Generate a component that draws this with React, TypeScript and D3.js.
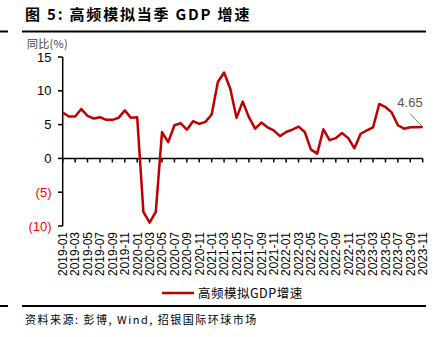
import React from "react";
import * as d3 from "d3";

const months: string[] = [];
for (let y = 2019; y <= 2023; y++) for (let m = 1; m <= 12; m++) {
  if (y === 2023 && m > 11) break;
  months.push(`${y}-${String(m).padStart(2, "0")}`);
}
const gdpValues = [
  6.8, 6.2, 6.2, 7.3, 6.3, 5.9, 6.1, 5.7, 5.7, 6.0, 7.1, 6.0,
  6.1, -7.9, -9.5, -7.9, 3.9, 2.4, 4.9, 5.2, 4.25, 5.5, 5.1, 5.4,
  6.5, 11.3, 12.7, 10.3, 6.0, 8.4, 6.1, 4.4, 5.3, 4.6, 4.15, 3.3,
  3.9, 4.25, 4.7, 3.9, 1.3, 0.7, 4.3, 2.7, 3.0, 3.75, 3.0, 1.5,
  3.65, 4.15, 4.6, 8.05, 7.6, 6.8, 4.9, 4.4, 4.6, 4.6, 4.65,
];
const yTicks = [15, 10, 5, 0, -5, -10];
const title = "图 5:  高频模拟当季 GDP 增速";
const seriesName = "高频模拟GDP增速";
const source = "资料来源:  彭博, Wind, 招银国际环球市场";
const unitLabel = "同比(%)";
const lastLabel = "4.65";

const RED = "#C00000";
const SANS = "Liberation Sans, Arial, sans-serif";
const CJK = "'Noto Sans CJK SC', sans-serif";

export default function App() {
  const x = d3.scaleLinear().domain([0, months.length - 1]).range([62.7, 422.7]);
  const y = d3.scaleLinear().domain([-10, 15]).range([226, 57]);
  const line = d3.line<number>().x((_, i) => x(i)).y((d) => y(d));
  const lastI = months.length - 1;
  const lx = x(lastI), ly = y(gdpValues[lastI]);
  return (
    <svg width={442} height={337} style={{ position: "absolute", left: 0, top: 0 }}>
      <rect width={442} height={337} fill="#fff" />
      <text x={25} y={20} fontFamily={CJK} fontWeight="bold" fontSize={15} letterSpacing={1.8} fill="#000">{title}</text>
      <line x1={0} x2={8} y1={31.5} y2={31.5} stroke="#000" strokeWidth={2} />
      <line x1={22} x2={426} y1={31.5} y2={31.5} stroke="#000" strokeWidth={2} />
      <text x={27} y={48} fontFamily={CJK} fontSize={11} letterSpacing={0.3} fill="#444">{unitLabel}</text>
      {/* y axis */}
      <line x1={62.7} x2={62.7} y1={y(15)} y2={y(-10)} stroke="#000" strokeWidth={1.5} />
      {yTicks.map((t) => (
        <g key={t}>
          <line x1={58} x2={62.7} y1={y(t)} y2={y(t)} stroke="#000" strokeWidth={1.5} />
          <text x={51.5} y={y(t)} dy="0.36em" textAnchor="end" fontFamily={SANS} fontSize={13} fill={t < 0 ? "#FF0000" : "#000"}>
            {t < 0 ? `(${-t})` : t}
          </text>
        </g>
      ))}
      {/* x axis */}
      <line x1={62.7} x2={422.7} y1={y(0)} y2={y(0)} stroke="#000" strokeWidth={1.5} />
      {months.map((m, i) => i % 2 === 0 ? (
        <g key={m}>
          <line x1={x(i)} x2={x(i)} y1={y(0)} y2={y(0) + 4} stroke="#000" strokeWidth={1.5} />
          <text transform={`translate(${x(i)},232) rotate(-90)`} dy="0.36em" textAnchor="end" fontFamily={SANS} fontSize={12} fill="#000">{m}</text>
        </g>
      ) : null)}
      <path d={line(gdpValues) || ""} fill="none" stroke={RED} strokeWidth={2.5} strokeLinejoin="round" />
      <line x1={410} y1={113.5} x2={lx} y2={ly} stroke="#666" strokeWidth={0.8} />
      <text x={410} y={107} textAnchor="middle" fontFamily={SANS} fontSize={13} fill="#555">{lastLabel}</text>
      {/* legend */}
      <line x1={162} x2={194} y1={293} y2={293} stroke={RED} strokeWidth={2.5} />
      <text x={198} y={293} dy="0.36em" fontFamily={CJK} fontSize={12.5} letterSpacing={0.5} fill="#000">{seriesName}</text>
      <line x1={0} x2={8} y1={306} y2={306} stroke="#000" strokeWidth={2} />
      <line x1={22} x2={426} y1={306} y2={306} stroke="#000" strokeWidth={2} />
      <text x={25} y={324} fontFamily={CJK} fontSize={11} letterSpacing={1.5} fill="#000">{source}</text>
    </svg>
  );
}
